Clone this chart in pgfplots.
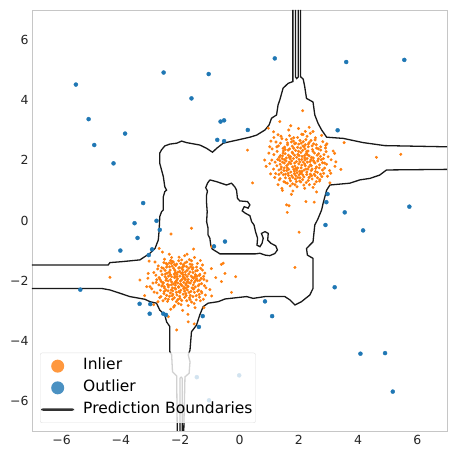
\documentclass[border=0pt]{standalone}
\usepackage{fontspec}
\setmainfont{DejaVu Sans}
\usepackage{pgfplots}
\pgfplotsset{compat=1.18}
\definecolor{inl}{HTML}{FF7F0E}
\definecolor{outl}{HTML}{1F77B4}
\begin{document}
\begin{tikzpicture}
\begin{axis}[
  at={(0,0)}, anchor=south west,
  width=415pt, height=421pt, scale only axis,
  xmin=-7, xmax=7, ymin=-7, ymax=7,
  xtick={-6,-4,-2,0,2,4,6}, ytick={-6,-4,-2,0,2,4,6},
  xticklabels={−6,−4,−2,0,2,4,6},
  yticklabels={−6,−4,−2,0,2,4,6},
  major tick length=0pt,
  tick label style={font=\fontsize{12.5}{14}\selectfont, text=black!85},
  xticklabel style={yshift=-1pt},
  axis line style={gray!45, line width=0.9pt},
  legend cell align=left,
  legend style={
    at={(0.0193,0.019)}, anchor=south west,
    draw=gray!25, rounded corners=2pt,
    fill=white, fill opacity=0.8, text opacity=1,
    font=\fontsize{15.5}{18}\selectfont,
    inner xsep=1pt, inner ysep=4pt,
    row sep=3.2pt,
    nodes={text height=11pt, text depth=3.5pt, inner sep=2pt},
    /tikz/every odd column/.append style={column sep=7pt},
  },
]

% inliers: two Gaussian blobs plus a few stray samples
\addplot[only marks, mark=*, mark size=1.3pt, color=inl,
  legend image code/.code={\path[draw=none,fill=none] (0pt,0pt) -- (33pt,0pt); \fill[inl, draw=none] (16.5pt,0pt) circle (6.5pt);}]
table {
1.68 2.10
2.27 1.61
1.86 2.55
2.64 1.98
1.41 1.78
2.03 1.31
2.46 2.36
1.52 2.44
2.15 1.94
1.76 1.49
2.80 1.68
1.29 2.03
1.97 2.20
2.34 1.42
1.80 0.98
2.56 2.75
1.61 1.24
2.10 2.87
1.22 1.56
2.92 2.29
1.90 1.73
2.39 1.85
1.47 2.24
2.22 2.52
1.73 1.89
2.71 1.36
1.10 2.38
2.06 1.57
2.52 1.54
1.57 1.98
2.20 2.08
1.83 2.75
2.87 1.91
1.34 1.35
1.94 1.12
2.43 2.10
1.66 3.01
2.31 1.71
1.50 1.66
2.13 2.33
3.09 2.02
1.02 1.89
2.00 1.88
2.60 1.78
1.78 2.27
2.24 2.69
1.38 2.57
2.74 2.45
1.89 1.38
2.36 1.19
1.64 1.57
2.08 1.75
1.26 1.82
2.97 1.47
1.96 2.43
1.71 1.15
2.48 2.96
1.44 2.06
2.29 2.19
1.85 1.64
2.67 2.22
1.55 1.42
2.17 1.45
1.75 2.61
2.55 1.91
1.16 2.19
2.04 2.66
2.81 2.62
1.59 1.82
2.20 1.07
1.92 1.96
2.42 1.66
1.33 1.68
3.22 1.80
1.69 2.82
2.32 2.45
1.43 1.07
2.11 2.13
2.59 1.29
1.54 2.36
2.01 1.52
2.73 2.13
1.82 2.06
2.22 1.82
1.06 2.64
2.50 2.55
1.72 1.32
2.90 2.41
1.99 3.06
1.36 1.99
2.38 1.96
1.87 1.19
2.14 2.48
1.48 1.52
2.63 1.60
1.65 2.17
2.28 2.80
1.19 1.43
2.99 2.12
1.93 1.68
2.45 1.38
1.62 2.52
2.07 2.26
1.40 2.80
2.70 1.85
1.79 1.78
2.35 2.59
1.51 1.91
2.18 1.68
2.53 2.24
1.27 2.30
2.84 1.57
1.86 2.17
2.25 1.26
1.66 1.70
2.41 2.02
1.45 2.15
2.04 1.42
3.16 2.31
1.15 1.71
1.96 2.76
2.57 1.73
1.58 2.69
2.21 2.01
1.75 0.87
2.77 2.83
1.31 2.48
2.10 1.84
2.48 1.10
1.83 2.40
1.50 1.29
2.31 2.31
1.94 1.59
2.66 2.05
1.71 2.05
2.13 1.36
1.37 1.87
2.94 1.87
1.90 2.57
2.43 1.49
1.61 1.75
2.25 2.23
1.23 2.61
2.55 2.68
1.80 1.43
2.01 2.03
2.78 1.46
1.54 2.22
2.34 1.78
1.73 3.15
2.17 1.18
1.09 2.01
2.60 2.41
1.87 1.81
2.39 2.90
1.41 1.59
2.08 2.57
3.04 1.66
1.68 1.94
2.27 1.53
1.30 1.19
1.99 2.30
2.52 1.94
1.78 2.47
2.74 2.34
1.55 1.26
2.20 2.16
1.92 1.29
2.45 2.48
1.47 2.40
2.11 1.64
2.63 1.42
1.64 2.34
2.04 1.95
2.35 2.15
1.20 1.94
2.85 2.19
1.85 1.56
2.21 2.38
1.38 2.16
2.56 1.63
1.72 2.12
1.96 1.75
2.42 1.82
1.59 1.66
2.14 2.86
0.99 2.24
2.70 1.31
1.82 2.64
2.29 1.94
1.51 1.75
2.03 1.64
2.49 2.08
1.69 1.40
2.80 1.92
1.89 2.33
2.32 1.33
1.33 1.53
2.18 2.45
1.76 1.98
2.59 2.52
1.45 1.94
1.97 1.43
2.39 1.54
1.62 2.58
2.10 2.03
2.69 1.75
1.26 2.45
2.24 1.71
1.79 1.22
2.48 2.30
1.58 2.08
2.06 2.41
2.91 2.50
1.40 1.71
2.28 2.06
1.86 1.91
2.55 1.49
1.65 1.50
2.15 2.62
1.16 2.76
2.76 2.02
1.93 2.10
2.36 1.45
1.52 2.02
2.07 1.28
2.62 2.17
1.73 1.61
2.22 2.96
1.43 2.72
2.45 1.71
1.83 1.70
2.00 2.54
2.87 1.74
1.34 2.10
2.32 2.54
1.69 2.38
2.13 1.52
2.66 2.38
1.55 1.54
2.01 2.16
2.53 1.21
1.80 2.23
2.20 1.88
1.48 2.31
2.41 2.66
1.90 1.49
2.73 1.54
1.64 1.87
2.08 1.59
2.49 1.99
1.37 1.39
2.27 2.29
1.75 2.71
2.83 2.06
1.05 1.55
2.95 2.55
1.30 2.85
3.05 1.25
2.60 0.95
1.45 1.00
2.35 3.10
0.90 1.80
3.25 1.95
1.15 2.95
2.13 3.65
4.62 2.10
5.44 2.20
3.42 1.70
3.53 2.59
2.24 0.63
2.52 0.61
1.67 0.49
1.61 0.27
1.36 3.29
0.97 3.07
0.27 2.34
0.44 1.25
1.59 0.52
2.01 -0.39
1.87 -1.56
1.02 2.45
0.85 2.01
3.21 2.23
3.08 1.57
-2.08 -1.72
-1.56 -2.27
-2.46 -1.93
-1.78 -1.38
-2.27 -2.50
-1.35 -1.82
-1.97 -2.14
-2.62 -1.57
-1.67 -2.63
-2.15 -1.50
-1.48 -1.68
-2.40 -2.21
-1.90 -1.87
-1.27 -2.41
-2.81 -2.06
-1.85 -1.17
-2.19 -2.83
-1.62 -2.00
-2.53 -1.29
-2.04 -2.36
-1.42 -1.43
-2.33 -1.80
-1.74 -2.18
-2.69 -2.56
-1.94 -1.61
-1.53 -2.76
-2.26 -1.36
-1.20 -1.96
-2.12 -1.99
-2.48 -2.31
-1.71 -1.78
-2.89 -1.73
-2.01 -2.59
-1.36 -2.13
-2.37 -1.12
-1.81 -2.43
-2.18 -1.85
-1.57 -1.57
-2.58 -2.10
-1.92 -2.99
-1.13 -2.24
-2.29 -2.04
-1.69 -1.30
-2.74 -1.51
-2.06 -2.20
-1.46 -2.50
-2.43 -2.69
-1.84 -1.93
-2.22 -1.59
-1.31 -1.59
-2.96 -2.27
-1.98 -1.43
-1.64 -2.36
-2.51 -1.87
-2.11 -2.48
-1.41 -2.00
-2.32 -2.95
-1.77 -1.66
-2.65 -1.68
-1.88 -2.27
-1.52 -1.23
-2.39 -2.15
-1.73 -2.83
-2.05 -1.34
-1.22 -2.62
-2.78 -2.41
-1.91 -1.80
-2.25 -2.34
-1.59 -1.89
-2.55 -1.40
-1.80 -2.10
-2.13 -2.70
-1.34 -1.79
-2.34 -1.65
-1.99 -2.01
-1.49 -2.21
-3.09 -1.92
-1.87 -1.51
-2.46 -2.49
-1.66 -2.49
-2.16 -1.73
-1.25 -1.48
-2.61 -2.17
-1.95 -2.66
-1.55 -1.92
-2.30 -1.43
-1.76 -2.31
-2.09 -1.94
-2.85 -1.38
-1.38 -2.31
-2.41 -2.01
-1.83 -1.71
-2.20 -2.57
-1.60 -1.47
-2.54 -2.36
-2.02 -1.57
-1.17 -1.75
-2.36 -1.54
-1.70 -2.07
-2.68 -1.96
-1.90 -2.45
-1.50 -2.90
-2.23 -2.11
-1.77 -1.12
-2.50 -1.78
-2.08 -2.08
-1.43 -1.85
-2.75 -2.70
-1.92 -1.73
-1.62 -2.71
-2.29 -1.23
-1.28 -2.10
-2.15 -2.28
-2.44 -1.47
-1.81 -2.14
-2.92 -2.08
-2.01 -1.85
-1.45 -1.55
-2.33 -2.41
-1.71 -1.59
-2.62 -2.18
-1.97 -2.80
-1.56 -2.14
-2.18 -1.66
-1.10 -2.01
-2.57 -1.59
-1.85 -2.35
-2.12 -1.45
-1.63 -1.85
-2.40 -2.62
-2.05 -2.22
-1.35 -2.55
-2.82 -1.82
-1.78 -1.54
-2.26 -2.24
-1.95 -1.31
-1.52 -2.39
-2.48 -1.99
-1.74 -3.12
-2.19 -1.90
-1.32 -1.33
-2.65 -2.53
-1.88 -2.06
-1.67 -1.71
-2.37 -1.72
-2.02 -2.52
-1.48 -1.99
-2.30 -2.31
-1.84 -1.41
-2.71 -1.90
-1.60 -2.24
-2.22 -2.88
-1.21 -1.86
-2.47 -1.43
-1.99 -2.11
-1.69 -2.57
-2.11 -1.79
-1.39 -2.17
-3.02 -2.20
-1.94 -1.96
-2.32 -1.33
-1.57 -1.73
-2.53 -2.25
-1.80 -2.50
-2.16 -2.07
-1.29 -2.36
-2.39 -1.85
-1.91 -1.64
-1.53 -2.06
-2.58 -2.67
-2.04 -1.22
-1.73 -1.96
-2.25 -2.45
-1.42 -1.66
-2.76 -1.61
-1.87 -2.22
-2.15 -2.03
-1.15 -2.48
-2.43 -2.13
-1.64 -1.54
-2.06 -2.76
-2.51 -1.66
-1.77 -1.86
-2.27 -1.52
-1.46 -2.64
-1.98 -2.32
-2.64 -2.03
-1.62 -1.34
-2.20 -1.78
-1.34 -1.99
-2.36 -2.52
-1.83 -1.97
-2.88 -2.38
-2.02 -1.69
-1.55 -2.28
-2.46 -1.55
-1.74 -2.20
-2.13 -2.39
-1.25 -1.65
-2.55 -2.43
-1.90 -1.47
-1.66 -2.08
-2.33 -1.97
-2.08 -2.63
-1.49 -1.80
-2.72 -2.14
-1.83 -1.80
-2.23 -1.38
-1.36 -2.46
-2.41 -2.34
-1.94 -2.17
-1.59 -1.62
-2.18 -2.25
-1.18 -2.17
-2.61 -1.80
-1.78 -2.67
-2.29 -1.87
-1.45 -1.94
-2.05 -1.58
-2.50 -2.60
-1.70 -2.39
-1.97 -1.75
-2.79 -1.97
-1.57 -2.53
-2.16 -2.15
-1.29 -1.92
-2.37 -1.41
-1.85 -2.56
-2.11 -1.87
-2.54 -2.20
-1.67 -1.45
-2.26 -2.62
-1.41 -2.35
-2.01 -2.39
-2.44 -1.75
-1.76 -2.03
-2.67 -2.32
-1.92 -1.55
-1.50 -1.87
-2.30 -2.14
-1.81 -2.25
-2.19 -1.47
-1.32 -2.67
-2.57 -2.07
-1.88 -1.90
-3.05 -1.35
-0.95 -1.60
-1.20 -2.90
-2.90 -2.80
-2.40 -3.20
-1.00 -2.30
-3.20 -2.50
-1.55 -0.95
-2.60 -1.05
-0.80 -1.90
-4.37 -1.89
-2.31 -0.45
-1.62 -0.26
-2.71 -0.93
-0.61 -1.46
-0.49 -1.76
-3.36 -1.98
-3.08 -1.76
-3.13 -2.20
-0.94 -2.51
-2.12 -3.64
-1.73 -3.37
-1.53 -3.44
-0.55 -1.42
-0.94 -0.87
-0.13 -1.87
-0.27 -2.39
-0.61 -2.03
};
\addlegendentry{Inlier}

% outliers
\addplot[only marks, mark=*, mark size=2pt, color=outl,
  legend image code/.code={\path[draw=none,fill=none] (0pt,0pt) -- (33pt,0pt); \fill[outl, draw=none] (16.5pt,0pt) circle (6.5pt);}]
table {
-5.52 4.52
-5.09 3.37
-4.90 2.51
-3.86 2.89
-4.25 1.90
-2.56 4.92
-1.04 4.87
-1.62 4.06
-0.64 3.29
-0.52 3.33
-0.75 2.68
-0.52 2.64
-3.25 0.58
-3.54 -0.09
-2.80 -0.01
1.19 5.39
3.60 5.27
5.56 5.34
0.28 3.01
3.31 3.00
2.97 0.88
2.93 0.61
3.55 0.27
5.73 0.46
2.90 -0.15
4.17 -0.33
-0.49 -0.70
3.21 -2.22
0.86 -2.69
1.10 -3.18
4.08 -4.43
4.91 -4.41
5.17 -5.69
-0.01 -5.15
-2.69 -0.31
-3.44 -0.58
-4.02 -1.00
-2.95 -0.96
-3.06 -1.15
-0.86 -0.86
-5.37 -2.30
-3.37 -2.77
-3.01 -2.78
-3.03 -3.10
-2.57 -3.10
-2.48 -3.14
-1.24 -3.18
-1.37 -3.54
-1.44 -5.21
-1.03 -5.98
};
\addlegendentry{Outlier}

% decision boundary, traced as separate contour pieces
\addplot[black!90, line width=1.3pt,
  legend image code/.code={\fill[black, draw=none] (0pt,-1.25pt) rectangle (33pt,1.25pt);}]
table {
-7 -1.48
-4.43 -1.48
-4.37 -1.40
-3.98 -1.37
-3.36 -1.31
-3.19 -1.20
-3.02 -1.09
-2.85 -0.93
-2.74 -0.65
-2.71 -0.32
-2.69 0.13
-2.63 0.29
-2.57 0.35
-2.57 0.79
-2.52 0.96
-2.46 1.01
-2.52 1.12
-2.57 1.46
-2.63 1.68
-2.69 1.90
-2.69 2.24
-2.63 2.35
-2.52 2.48
-2.35 2.54
-2.12 2.57
-1.95 2.64
-1.79 2.59
-1.34 2.51
-1.11 2.40
-0.91 2.27
-0.77 2.40
-0.55 2.57
-0.33 2.62
-0.05 2.68
0.35 2.77
0.58 2.84
0.86 3.01
1.00 3.18
1.08 3.40
1.25 3.51
1.30 3.84
1.36 4.01
1.47 4.40
1.64 4.56
1.80 4.62
1.80 7
};
\addlegendentry{Prediction Boundaries}

\addplot[black!90, line width=1.3pt, forget plot] table {
2.06 7
2.06 4.78
2.15 4.70
2.20 4.45
2.26 4.06
2.48 3.94
2.54 3.51
2.65 3.23
2.77 3.01
2.94 2.77
3.50 2.73
4.17 2.59
4.90 2.49
7 2.45
};

\addplot[black!90, line width=1.3pt, forget plot] table {
7 1.70
4.96 1.68
4.73 1.51
4.40 1.40
4.06 1.35
3.72 1.24
3.05 1.18
2.94 1.01
2.88 0.79
2.82 0.57
2.77 0.35
2.64 0.04
2.54 -0.15
2.48 -0.71
2.26 -0.93
2.29 -1.15
2.48 -1.26
2.48 -2.26
2.37 -2.48
2.09 -2.70
1.87 -2.81
1.70 -2.64
1.53 -2.53
0.86 -2.53
0.46 -2.59
0.24 -2.53
-0.49 -2.61
-0.72 -2.70
-1.06 -2.75
-1.23 -2.87
-1.34 -3.14
-1.45 -3.48
-1.62 -3.70
-1.67 -4.31
-1.73 -4.47
-1.67 -4.70
-1.70 -5.08
-1.84 -5.20
-1.88 -7
};

\addplot[black!90, line width=1.3pt, forget plot] table {
-2.10 -7
-2.12 -5.17
-2.26 -5.03
-2.29 -4.47
-2.35 -4.36
-2.35 -3.53
-2.46 -3.37
-2.52 -3.14
-2.69 -2.98
-2.80 -2.75
-3.02 -2.70
-3.19 -2.62
-3.70 -2.53
-4.03 -2.42
-4.37 -2.31
-4.65 -2.26
-7 -2.26
};

\addplot[black!90, line width=1.3pt, forget plot] table {
1.89 7
1.89 4.77
1.93 4.72
1.98 4.77
1.98 7
};

\addplot[black!90, line width=1.3pt, forget plot] table {
-2.01 -7
-2.01 -5.25
-1.97 -5.21
-1.93 -5.25
-1.93 -7
};

\addplot[black!90, line width=1.3pt, forget plot] table {
-1.00 1.35
-0.77 1.29
-0.44 1.18
-0.27 1.24
-0.16 1.12
-0.10 1.01
-0.07 0.74
0.01 0.65
0.27 0.63
0.35 0.52
0.29 0.41
0.16 0.46
0.09 0.32
0.20 0.24
0.35 0.16
0.41 -0.04
0.49 -0.15
0.54 -0.37
0.61 -0.59
0.59 -0.82
0.69 -0.87
0.76 -0.76
0.80 -0.59
0.74 -0.43
0.86 -0.37
0.97 -0.43
0.95 -0.65
1.06 -0.76
1.22 -0.84
1.28 -0.98
1.19 -1.10
1.02 -1.17
0.86 -1.15
0.69 -1.09
0.54 -1.11
-0.66 -1.11
-0.77 -1.04
-0.92 -0.95
-0.97 -0.82
-1.00 -0.59
-1.06 -0.48
-1.06 -0.26
-1.11 -0.04
-1.09 0.29
-1.11 0.57
-1.11 0.85
-1.08 0.98
-1.14 1.09
-1.08 1.24
-1.00 1.35
};

\end{axis}
\path (-32pt,-18pt) rectangle (418pt,431pt);
\end{tikzpicture}
\end{document}
